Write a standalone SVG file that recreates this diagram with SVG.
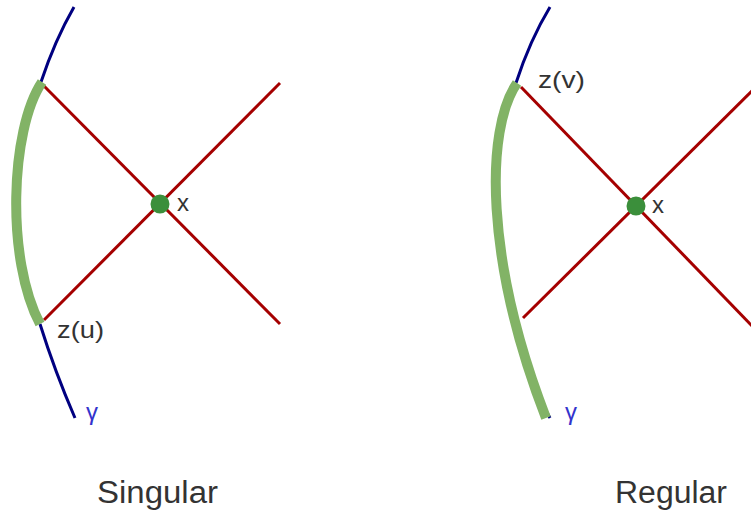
<svg xmlns="http://www.w3.org/2000/svg" width="751" height="514" viewBox="0 0 751 514">
<style>
.curve{fill:none;stroke:#000080;stroke-width:3}
.arc{fill:none;stroke:#82b366;stroke-width:10;stroke-linecap:butt}
.ray{fill:none;stroke:#a50000;stroke-width:3}
.dot{fill:#3b8f3b}
.lbl{font-family:"Liberation Sans",Arial,sans-serif;font-size:24px;fill:#333333}
.xl{font-family:"Liberation Sans",Arial,sans-serif;font-size:24px;fill:#333333}
.gam{font-family:"Liberation Sans",Arial,sans-serif;font-size:24px;fill:#3333cc}
.ttl{font-family:"Liberation Sans",Arial,sans-serif;font-size:31px;fill:#333333}
</style>
<rect width="751" height="514" fill="#ffffff"/>
<g id="singular">
  <g id="gamma-left">
    <path class="curve" d="M74,7 Q55,40 41,82"/>
    <path class="curve" d="M40,324 Q55,372 75,418"/>
  </g>
  <g id="connectors-left">
    <path class="ray" d="M44,86 L280,324"/>
    <path class="ray" d="M44,320 L280,83"/>
  </g>
  <g id="arc-left">
    <path class="arc" d="M42,82 C10,130 6,260 40,324"/>
  </g>
  <g id="x-left">
    <circle class="dot" cx="160" cy="204" r="9.5"/>
    <text class="xl" x="177" y="211">x</text>
  </g>
  <g id="zu-label">
    <text class="lbl" x="57" y="338" textLength="47" lengthAdjust="spacingAndGlyphs">z(u)</text>
  </g>
  <g id="gamma-label-left">
    <text class="gam" x="86" y="420">γ</text>
  </g>
  <text class="ttl" x="97" y="503" textLength="121" lengthAdjust="spacingAndGlyphs">Singular</text>
</g>
<g id="regular">
  <g id="gamma-right">
    <path class="curve" d="M550,7 Q530,40 516,83"/>
    <path class="curve" d="M540,400 L550,418"/>
  </g>
  <g id="connectors-right">
    <path class="ray" d="M521,87 L756,330"/>
    <path class="ray" d="M523,318 L756,87"/>
  </g>
  <g id="arc-right">
    <path class="arc" d="M517,83 C485,130 485,260 546,418"/>
  </g>
  <g id="x-right">
    <circle class="dot" cx="636" cy="206" r="9.5"/>
    <text class="xl" x="652" y="213">x</text>
  </g>
  <g id="zv-label">
    <text class="lbl" x="538" y="88" textLength="47" lengthAdjust="spacingAndGlyphs">z(v)</text>
  </g>
  <g id="gamma-label-right">
    <text class="gam" x="565" y="420">γ</text>
  </g>
  <text class="ttl" x="615" y="503" textLength="112" lengthAdjust="spacingAndGlyphs">Regular</text>
</g>
</svg>
